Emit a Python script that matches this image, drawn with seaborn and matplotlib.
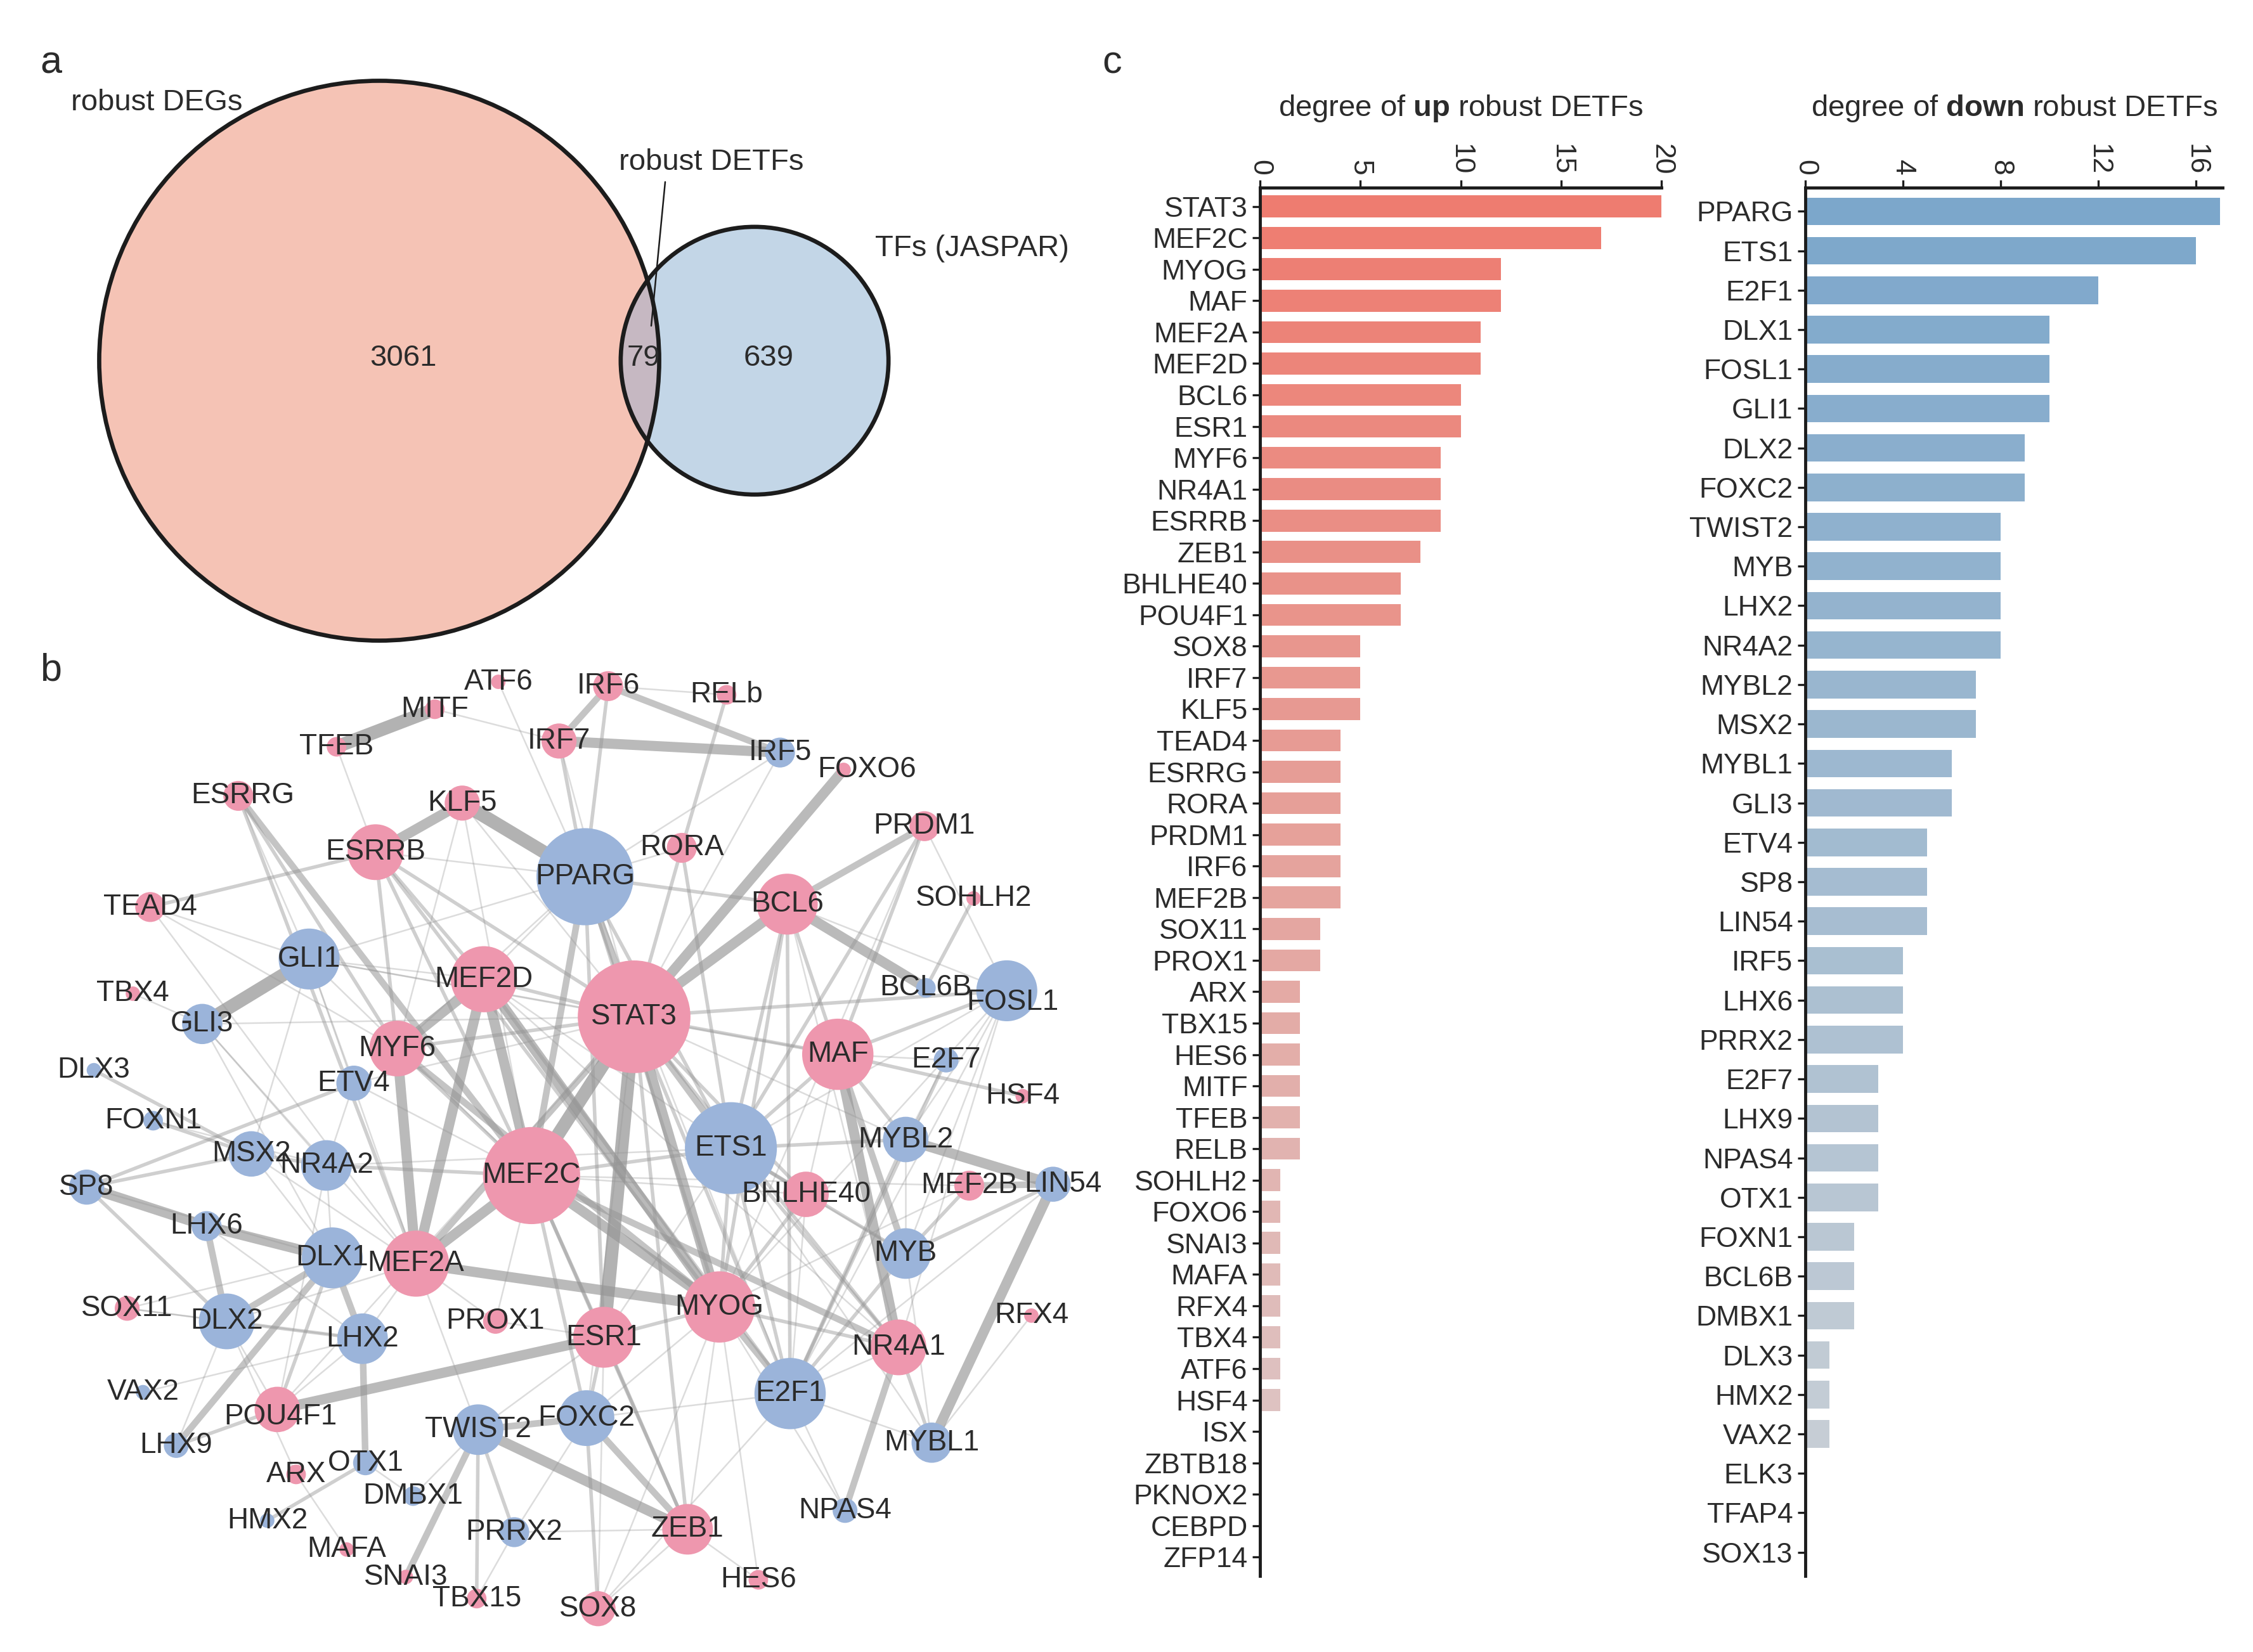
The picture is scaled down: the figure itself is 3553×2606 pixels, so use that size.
import numpy as np
import pandas as pd
import seaborn as sns
import matplotlib.pyplot as plt
from matplotlib.patches import Circle
from matplotlib.collections import LineCollection

# ---- data ----
# venn counts
n_degs_only = 3061
n_both = 79
n_tfs_only = 639

# degree of up / down robust DETFs
up_tfs = ["STAT3", "MEF2C", "MYOG", "MAF", "MEF2A", "MEF2D", "BCL6", "ESR1", "MYF6", "NR4A1",
          "ESRRB", "ZEB1", "BHLHE40", "POU4F1", "SOX8", "IRF7", "KLF5", "TEAD4", "ESRRG", "RORA",
          "PRDM1", "IRF6", "MEF2B", "SOX11", "PROX1", "ARX", "TBX15", "HES6", "MITF", "TFEB",
          "RELB", "SOHLH2", "FOXO6", "SNAI3", "MAFA", "RFX4", "TBX4", "ATF6", "HSF4", "ISX",
          "ZBTB18", "PKNOX2", "CEBPD", "ZFP14"]
up_degree = [20, 17, 12, 12, 11, 11, 10, 10, 9, 9,
             9, 8, 7, 7, 5, 5, 5, 4, 4, 4,
             4, 4, 4, 3, 3, 2, 2, 2, 2, 2,
             2, 1, 1, 1, 1, 1, 1, 1, 1, 0,
             0, 0, 0, 0]

down_tfs = ["PPARG", "ETS1", "E2F1", "DLX1", "FOSL1", "GLI1", "DLX2", "FOXC2", "TWIST2", "MYB",
            "LHX2", "NR4A2", "MYBL2", "MSX2", "MYBL1", "GLI3", "ETV4", "SP8", "LIN54", "IRF5",
            "LHX6", "PRRX2", "E2F7", "LHX9", "NPAS4", "OTX1", "FOXN1", "BCL6B", "DMBX1", "DLX3",
            "HMX2", "VAX2", "ELK3", "TFAP4", "SOX13"]
down_degree = [17, 16, 12, 10, 10, 10, 9, 9, 8, 8,
               8, 8, 7, 7, 6, 6, 5, 5, 5, 4,
               4, 4, 3, 3, 3, 3, 2, 2, 2, 1,
               1, 1, 0, 0, 0]

# network layout (x right, y down)
node_xy = {
    "STAT3": (439, 704), "MEF2C": (368, 814), "MYOG": (498, 905), "MAF": (580, 730),
    "MEF2A": (288, 875), "MEF2D": (335, 678), "BCL6": (545, 626), "ESR1": (418, 926),
    "MYF6": (275, 726), "NR4A1": (622, 933), "ESRRB": (260, 590), "ZEB1": (476, 1059),
    "BHLHE40": (558, 827), "POU4F1": (192, 976), "SOX8": (414, 1114), "IRF7": (387, 513),
    "KLF5": (320, 556), "TEAD4": (104, 628), "ESRRG": (165, 551), "RORA": (472, 587),
    "PRDM1": (640, 572), "IRF6": (421, 475), "MEF2B": (671, 821), "SOX11": (88, 906),
    "PROX1": (343, 915), "ARX": (205, 1021), "TBX15": (330, 1107), "HES6": (525, 1094),
    "MITF": (301, 491), "TFEB": (233, 517), "RELB": (503, 481), "SOHLH2": (674, 622),
    "FOXO6": (584, 533), "SNAI3": (281, 1092), "MAFA": (240, 1073), "RFX4": (714, 911),
    "TBX4": (92, 688), "ATF6": (345, 472), "HSF4": (708, 759),
    "PPARG": (405, 607), "ETS1": (506, 795), "E2F1": (547, 965), "DLX1": (230, 871),
    "FOSL1": (697, 686), "GLI1": (214, 664), "DLX2": (157, 915), "FOXC2": (406, 982),
    "TWIST2": (331, 990), "MYB": (627, 868), "LHX2": (251, 927), "NR4A2": (226, 807),
    "MYBL2": (627, 789), "MSX2": (174, 799), "MYBL1": (645, 999), "GLI3": (140, 709),
    "ETV4": (245, 750), "SP8": (60, 822), "LIN54": (729, 820), "IRF5": (540, 521),
    "LHX6": (143, 849), "PRRX2": (356, 1061), "E2F7": (655, 734), "LHX9": (122, 1001),
    "NPAS4": (585, 1046), "OTX1": (253, 1013), "FOXN1": (106, 776), "BCL6B": (641, 684),
    "DMBX1": (286, 1036), "DLX3": (65, 741), "HMX2": (185, 1053), "VAX2": (99, 964),
}

# edges: node node weight(1-5)
edge_list = """
STAT3 MEF2C 5; STAT3 MYOG 4; STAT3 ESR1 5; STAT3 BCL6 4; STAT3 FOXO6 4; STAT3 MEF2A 3
STAT3 PPARG 3; STAT3 ETS1 3; STAT3 MAF 2; STAT3 FOSL1 2; STAT3 RORA 2; STAT3 NR4A1 2
STAT3 BHLHE40 2; STAT3 MEF2D 2; STAT3 MYF6 2; STAT3 ESRRB 2; STAT3 E2F1 2; STAT3 ZEB1 2
STAT3 KLF5 1; STAT3 GLI1 1; STAT3 IRF7 1; STAT3 IRF5 1; STAT3 MYBL2 1; STAT3 GLI3 1
STAT3 ETV4 1; STAT3 POU4F1 1; STAT3 FOXC2 1
MEF2C MEF2D 4; MEF2C MEF2A 4; MEF2C MYOG 4; MEF2C ESRRG 3; MEF2C PPARG 3; MEF2C NR4A1 3
MEF2C NR4A2 2; MEF2C ESR1 2; MEF2C ZEB1 2; MEF2C ETS1 2; MEF2C MYF6 2; MEF2C ESRRB 2
MEF2C FOXC2 2; MEF2C PROX1 1; MEF2C MEF2B 1; MEF2C KLF5 1; MEF2C BHLHE40 1; MEF2C ETV4 1
MEF2C GLI1 1
MEF2D MEF2A 4; MEF2D MYF6 4; MEF2D MYOG 4; MEF2D ESRRB 2; MEF2D GLI1 1; MEF2D PPARG 1
MEF2D ETS1 1; MEF2D E2F1 2; MEF2D NR4A1 1
MEF2A MYF6 4; MEF2A MYOG 4; MEF2A ESRRG 2; MEF2A TEAD4 1; MEF2A PROX1 1; MEF2A GLI3 1
MEF2A MSX2 1; MEF2A LHX2 1; MEF2A TWIST2 1; MEF2A DLX2 1; MEF2A GLI1 1
MYF6 MYOG 3; MYF6 ESRRG 2; MYF6 TEAD4 1; MYF6 KLF5 1; MYF6 ESRRB 2; MYF6 PPARG 1
MYOG ESRRB 2; MYOG BHLHE40 2; MYOG ESR1 2; MYOG ZEB1 1; MYOG E2F1 3; MYOG NR4A1 2
MYOG BCL6 2; MYOG ETS1 2; MYOG PPARG 2; MYOG FOSL1 1; MYOG SOX8 1; MYOG HES6 1
MYOG NPAS4 1; MYOG MEF2B 1; MYOG FOXC2 1; MYOG PRDM1 1
MAF NR4A1 4; MAF MYB 3; MAF PRDM1 2; MAF BCL6 2; MAF HSF4 2; MAF MYBL2 2; MAF E2F7 1
MAF FOSL1 2; MAF BHLHE40 1; MAF GLI1 1; MAF ETS1 2
BCL6 BCL6B 4; BCL6 PRDM1 3; BCL6 E2F1 2; BCL6 ETS1 2; BCL6 FOSL1 1; BCL6 NR4A1 1; BCL6 PPARG 2
ESR1 POU4F1 4; ESR1 ZEB1 2; ESR1 FOXC2 2; ESR1 SOX8 1; ESR1 TWIST2 1; ESR1 PROX1 1
ESR1 ETS1 1; ESR1 PPARG 2
NR4A1 NPAS4 3; NR4A1 MYBL1 2; NR4A1 E2F1 1; NR4A1 ETS1 2; NR4A1 FOSL1 1
ESRRB KLF5 4; ESRRB TEAD4 2; ESRRB TFEB 1; ESRRB PPARG 1
ZEB1 TWIST2 4; ZEB1 FOXC2 3; ZEB1 SOX8 1; ZEB1 HES6 1; ZEB1 PRRX2 1
BHLHE40 ETS1 2; BHLHE40 MYB 1; BHLHE40 E2F1 1
POU4F1 LHX9 2; POU4F1 DLX1 2; POU4F1 LHX2 1; POU4F1 DLX2 1; POU4F1 NR4A2 1
SOX8 FOXC2 2; SOX8 E2F1 1
IRF7 IRF5 4; IRF7 IRF6 3; IRF7 MITF 1; IRF7 PPARG 2; KLF5 PPARG 5
TEAD4 GLI1 1; ESRRG GLI1 1; RORA RELB 2; RORA ETS1 2; RORA PPARG 1
PRDM1 ETS1 2; PRDM1 FOSL1 1; IRF6 IRF5 3; IRF6 PPARG 2; IRF6 RELB 1
MEF2B LIN54 3; MEF2B MYB 2; SOX11 DLX2 1; SOX11 DLX1 1; SOX11 LHX2 1
ARX MAFA 1; ARX DLX2 1; TBX15 TWIST2 2; TBX15 PRRX2 1; MITF TFEB 5; SOHLH2 BCL6B 2
TBX4 GLI3 1; ATF6 PPARG 1; RFX4 MYBL1 1; SNAI3 TWIST2 3
PPARG IRF5 1; PPARG ETS1 2; PPARG E2F1 1; PPARG GLI1 1
ETS1 MYBL2 2; ETS1 E2F1 2; ETS1 MYB 2; ETS1 MYBL1 1; ETS1 FOSL1 1; ETS1 NR4A2 1
E2F1 MYBL2 2; E2F1 E2F7 2; E2F1 MYB 2; E2F1 NPAS4 1; E2F1 MYBL1 1; E2F1 LIN54 1
E2F1 FOXC2 1; E2F1 FOSL1 1
DLX1 LHX6 4; DLX1 DLX2 3; DLX1 LHX2 3; DLX1 LHX9 3; DLX1 SP8 1; DLX1 MSX2 1; DLX1 GLI3 1
DLX1 NR4A2 1; FOSL1 MYBL2 1; FOSL1 MYB 1; GLI1 GLI3 5; GLI1 ETV4 1; GLI1 MSX2 1
DLX2 LHX6 3; DLX2 LHX2 2; DLX2 SP8 2; DLX2 LHX9 1; FOXC2 TWIST2 3; FOXC2 PRRX2 1
TWIST2 PRRX2 2; TWIST2 DMBX1 1; MYB LIN54 2; MYB MYBL2 1; MYB MYBL1 1
LHX2 OTX1 3; LHX2 LHX6 1; LHX2 VAX2 1; NR4A2 MSX2 2; NR4A2 GLI3 1; NR4A2 ETV4 1
NR4A2 FOXN1 1; MYBL2 LIN54 4; MYBL2 E2F7 1; MSX2 SP8 2; MSX2 DLX3 2; MSX2 FOXN1 2
MYBL1 LIN54 4; ETV4 SP8 2; SP8 LHX6 4; OTX1 HMX2 2; OTX1 DMBX1 1
"""

edges = []
for chunk in edge_list.replace("\n", ";").split(";"):
    parts = chunk.split()
    if len(parts) == 3:
        edges.append((parts[0], parts[1], int(parts[2])))

# ---- style ----
sns.set_style("ticks")
plt.rcParams["font.family"] = ["Liberation Sans", "DejaVu Sans"]
plt.rcParams["mathtext.fontset"] = "custom"
plt.rcParams["mathtext.rm"] = "Liberation Sans"
plt.rcParams["mathtext.bf"] = "Liberation Sans:bold"
text_col = "#2b2b2b"
pink = "#EE97AE"
blue = "#9BB4DA"

W, H = 3553, 2606
fig = plt.figure(figsize=(W / 100, H / 100), dpi=100)
fig.patch.set_facecolor("white")


def px_box(x0, y0, x1, y1):
    # pixel box -> figure fraction [left, bottom, width, height]
    return [x0 / W, 1 - y1 / H, (x1 - x0) / W, (y1 - y0) / H]


# ---- a: venn ----
axv = fig.add_axes(px_box(0, 0, 1760, 1030))
axv.set_xlim(0, 1760)
axv.set_ylim(1030, 0)
axv.axis("off")

k = 7.88
r_big = k * np.sqrt(n_degs_only + n_both)
r_small = k * np.sqrt(n_tfs_only + n_both)
c_big = (598, 569)
c_small = (1190, 569)

big = Circle(c_big, r_big, fc="#F5C3B5", ec="none", zorder=1)
small = Circle(c_small, r_small, fc="#C3D6E7", ec="none", zorder=2)
axv.add_patch(big)
axv.add_patch(small)
lens = Circle(c_big, r_big, fc="#C6B8C2", ec="none", zorder=3)
axv.add_patch(lens)
lens.set_clip_path(small)
for c, r in [(c_big, r_big), (c_small, r_small)]:
    axv.add_patch(Circle(c, r, fill=False, ec="#1c1c1c", lw=4.8, zorder=4))

venn_font = ["Liberation Sans Narrow", "Liberation Sans"]
lens_x = ((c_big[0] + r_big) + (c_small[0] - r_small)) / 2
axv.text(c_big[0] + 38, 565, f"{n_degs_only}", ha="center", va="center", fontsize=34,
         family=venn_font, color=text_col, zorder=5)
axv.text(lens_x + 6, 565, f"{n_both}", ha="center", va="center", fontsize=34,
         family=venn_font, color=text_col, zorder=5)
axv.text(c_small[0] + 22, 565, f"{n_tfs_only}", ha="center", va="center", fontsize=34,
         family=venn_font, color=text_col, zorder=5)
axv.text(112, 162, "robust DEGs", ha="left", va="center", fontsize=34,
         family=venn_font, color=text_col, zorder=5)
axv.text(976, 256, "robust DETFs", ha="left", va="center", fontsize=34,
         family=venn_font, color=text_col, zorder=5)
axv.text(1380, 392, "TFs (JASPAR)", ha="left", va="center", fontsize=34,
         family=venn_font, color=text_col, zorder=5)
axv.plot([1049, 1027], [287, 514], color="#1c1c1c", lw=1.8, zorder=5)

# ---- b: network ----
axn = fig.add_axes(px_box(0, 1030, 1780, 2606))
axn.set_xlim(0, 781.4)
axn.set_ylim(1144, 452)
axn.axis("off")

deg = dict(zip(up_tfs + down_tfs, up_degree + down_degree))
edge_style = {1: (1.8, 0.33), 2: (4.0, 0.45), 3: (7.5, 0.55), 4: (11.5, 0.65), 5: (15.0, 0.72)}
for w in sorted(edge_style):
    segs = [[node_xy[a], node_xy[b]] for a, b, ww in edges if ww == w]
    lw, al = edge_style[w]
    axn.add_collection(LineCollection(segs, colors="#959595", linewidths=lw, alpha=al,
                                      capstyle="butt", zorder=1))

label_shift = {"FOXO6": (16, 0), "LIN54": (7, 0), "FOSL1": (4, 8), "POU4F1": (2, 5),
               "ESRRG": (3, 0)}
label_text = {"RELB": "RELb"}
for name, (x, y) in node_xy.items():
    r = 3.2 + 1.79 * deg[name]
    col = pink if name in up_tfs else blue
    axn.add_patch(Circle((x, y), r, fc=col, ec="none", zorder=2))
for name, (x, y) in node_xy.items():
    dx, dy = label_shift.get(name, (0, 0))
    axn.text(x + dx, y + dy, label_text.get(name, name), ha="center", va="center",
             fontsize=33, color=text_col, zorder=3)

# ---- c: bar charts ----
up_cols = sns.blend_palette(["#EE7C70", "#DCCBCB"], len(up_tfs))
down_cols = sns.blend_palette(["#7CA7CB", "#CDD1D6"], len(down_tfs))

bar_specs = [
    (px_box(1987, 296, 2620, 2486), up_tfs, up_degree, up_cols, 20,
     [0, 5, 10, 15, 20], r"degree of $\mathbf{up}$ robust DETFs"),
    (px_box(2847, 296, 3505, 2486), down_tfs, down_degree, down_cols, 17.1,
     [0, 4, 8, 12, 16], r"degree of $\mathbf{down}$ robust DETFs"),
]
for box, names, vals, cols, xmax, ticks, title in bar_specs:
    ax = fig.add_axes(box)
    df = pd.DataFrame({"tf": names, "degree": vals})
    sns.barplot(data=df, x="degree", y="tf", hue="tf", palette=cols, legend=False,
                orient="h", width=0.7, saturation=1, linewidth=0, ax=ax)
    ax.set_xlim(0, xmax)
    ax.set_ylim(len(names) - 0.4, -0.6)
    ax.xaxis.tick_top()
    ax.set_xticks(ticks)
    ax.set_xlabel("")
    ax.set_ylabel("")
    for side in ["right", "bottom"]:
        ax.spines[side].set_visible(False)
    for side in ["left", "top"]:
        ax.spines[side].set_linewidth(3.5)
        ax.spines[side].set_color("#1c1c1c")
    ax.tick_params(axis="x", labelrotation=-90, labelsize=32, length=9, width=2.4,
                   colors="#1c1c1c", pad=5)
    ax.tick_params(axis="y", labelsize=32, length=9, width=2.4, colors="#1c1c1c", pad=5)
    for lab in ax.get_xticklabels() + ax.get_yticklabels():
        lab.set_color(text_col)
    ax.set_facecolor("none")
    ax.text(0.5, 1.057, title, transform=ax.transAxes, ha="center", va="center",
            fontsize=34, color=text_col)

# panel letters
for letter, (x, y) in {"a": (80, 100), "b": (80, 1058), "c": (1754, 100)}.items():
    fig.text(x / W, 1 - y / H, letter, ha="center", va="center", fontsize=44, color=text_col)

fig.savefig("out.png", dpi=100, facecolor="white")
